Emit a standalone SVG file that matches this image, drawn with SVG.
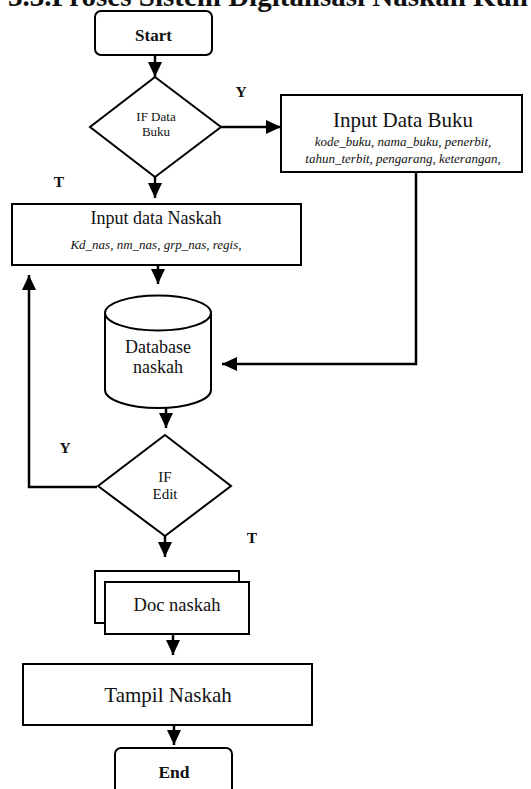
<svg xmlns="http://www.w3.org/2000/svg" width="531" height="789" viewBox="0 0 531 789">
<style>
.box{fill:#fff;stroke:#000;stroke-width:2}
.ln{fill:none;stroke:#000;stroke-width:2.5}
text{font-family:"Liberation Serif","Times New Roman",serif;fill:#111;text-anchor:middle}
.b{font-weight:bold}
.i{font-style:italic}
.yt{font-weight:bold;font-size:15.5px}
</style>
<defs>
<marker id="ah" viewBox="0 0 15 14" refX="15" refY="7" markerWidth="15" markerHeight="14" orient="auto" markerUnits="userSpaceOnUse">
<path d="M0,0 L15,7 L0,14 Z" fill="#000"/>
</marker>
</defs>
<rect width="531" height="789" fill="#fff"/>
<text x="8" y="6" style="text-anchor:start;font-size:29px;font-weight:bold">3.3.Proses Sistem Digitalisasi Naskah Kun</text>

<g id="connectors">
<line class="ln" x1="155" y1="55" x2="155" y2="77" marker-end="url(#ah)"/>
<line class="ln" x1="221" y1="127" x2="281" y2="127" marker-end="url(#ah)"/>
<line class="ln" x1="155" y1="177" x2="155" y2="198" marker-end="url(#ah)"/>
<polyline class="ln" points="416,172 416,364 222,364" marker-end="url(#ah)"/>
<line class="ln" x1="158" y1="265" x2="158" y2="284" marker-end="url(#ah)"/>
<line class="ln" x1="166" y1="408" x2="166" y2="428" marker-end="url(#ah)"/>
<polyline class="ln" points="97,487 29,487 29,275" marker-end="url(#ah)"/>
<line class="ln" x1="165" y1="536" x2="165" y2="557" marker-end="url(#ah)"/>
<line class="ln" x1="173" y1="634" x2="173" y2="655" marker-end="url(#ah)"/>
<line class="ln" x1="174" y1="725" x2="174" y2="745" marker-end="url(#ah)"/>
<text class="yt" x="241" y="97">Y</text>
<text class="yt" x="59" y="187">T</text>
<text class="yt" x="65" y="453">Y</text>
<text class="yt" x="252" y="543">T</text>
</g>

<g id="start">
<rect class="box" x="95" y="11" width="117" height="44" rx="6"/>
<text class="b" x="153.5" y="41" font-size="17">Start</text>
</g>

<g id="if-data-buku">
<polygon class="box" points="155,77 221,127 155,177 90,127"/>
<text x="156" y="121" font-size="13">IF Data</text>
<text x="156" y="136" font-size="13">Buku</text>
</g>

<g id="input-data-buku">
<rect class="box" x="281" y="95" width="241" height="77"/>
<text x="403" y="127" font-size="21">Input Data Buku</text>
<text class="i" x="403" y="146" font-size="13">kode_buku, nama_buku, penerbit,</text>
<text class="i" x="403" y="163" font-size="13">tahun_terbit, pengarang, keterangan,</text>
</g>

<g id="input-data-naskah">
<rect class="box" x="12" y="204" width="289" height="61"/>
<text x="156" y="224" font-size="18">Input data Naskah</text>
<text class="i" x="156" y="249" font-size="13">Kd_nas, nm_nas, grp_nas, regis,</text>
</g>

<g id="database-naskah">
<path class="box" d="M105,313 L105,390 A53,18 0 0 0 211,390 L211,313"/>
<ellipse class="box" cx="158" cy="313" rx="53" ry="17.5"/>
<text x="158" y="353" font-size="18">Database</text>
<text x="158" y="373" font-size="18">naskah</text>
</g>

<g id="if-edit">
<polygon class="box" points="165,435 231,486 165,536 98,486"/>
<text x="165" y="482" font-size="15">IF</text>
<text x="165" y="499" font-size="15">Edit</text>
</g>

<g id="doc-naskah">
<rect class="box" x="95" y="571" width="144" height="52"/>
<rect class="box" x="105" y="582" width="144" height="52"/>
<text x="177" y="611" font-size="18.5">Doc naskah</text>
</g>

<g id="tampil-naskah">
<rect class="box" x="23" y="664" width="289" height="61"/>
<text x="168" y="702" font-size="21">Tampil Naskah</text>
</g>

<g id="end">
<rect class="box" x="115" y="748" width="117" height="50" rx="6"/>
<text class="b" x="174" y="778" font-size="17.5">End</text>
</g>
</svg>
